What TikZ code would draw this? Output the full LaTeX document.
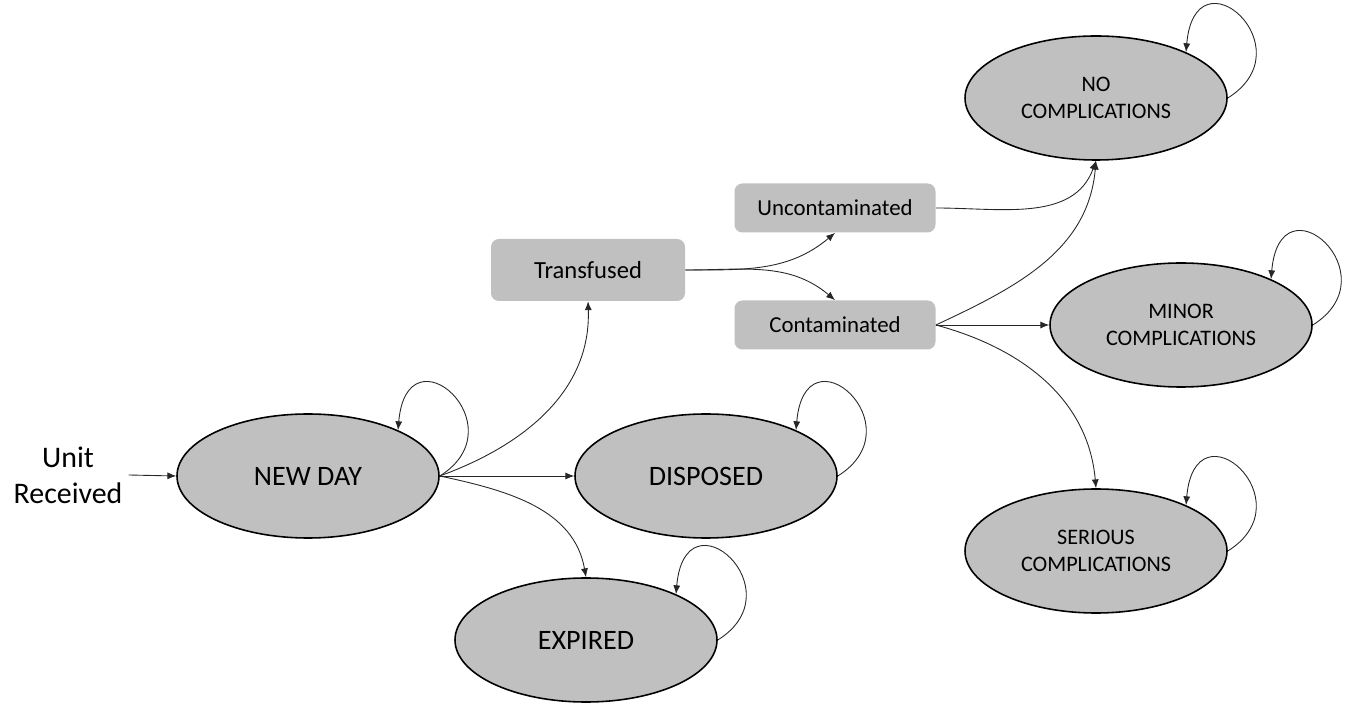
\documentclass[tikz,border=0pt]{standalone}
\usepackage{fontspec}
\setmainfont{Carlito}
\usetikzlibrary{arrows.meta,shapes.geometric,positioning}
\definecolor{stategray}{RGB}{192,192,192}

\begin{document}
\begin{tikzpicture}[
  state/.style={ellipse,draw=black,line width=0.9pt,fill=stategray,minimum width=5.24cm,minimum height=2.48cm,inner sep=0pt,align=center},
  bigtxt/.style={font=\fontsize{16}{19}\selectfont},
  smalltxt/.style={font=\fontsize{12.6}{15.4}\selectfont},
  box/.style={rectangle,rounded corners=4.5pt,fill=stategray,minimum width=4.02cm,minimum height=0.98cm,font=\fontsize{13}{15}\selectfont},
  edge/.style={draw=black!85,line width=0.5pt,-{Latex[length=5pt,width=4pt]}}]
\useasboundingbox (0,0) rectangle (27,14.06);
% states
\node[align=center,font=\fontsize{17}{20.5}\selectfont] (unit) at (1.36,4.56) {Unit\\Received};
\node[state,bigtxt] (nd) at (6.16,4.54) {NEW DAY};
\node[state,bigtxt] (disp) at (14.12,4.54) {DISPOSED};
\node[state,bigtxt] (exp) at (11.72,1.26) {EXPIRED};
\node[state,smalltxt] (noc) at (21.92,12.10) {NO\\COMPLICATIONS};
\node[state,smalltxt] (minc) at (23.62,7.56) {MINOR\\COMPLICATIONS};
\node[state,smalltxt] (serc) at (21.92,3.04) {SERIOUS\\COMPLICATIONS};
\node[box,minimum width=3.88cm,minimum height=1.24cm,font=\fontsize{14}{16}\selectfont] (trans) at (11.76,8.66) {Transfused};
\node[box] (uncont) at (16.70,9.90) {Uncontaminated};
\node[box] (cont) at (16.70,7.56) {Contaminated};
% transitions
\draw[edge] (unit.east) -- (nd.west);
\draw[edge] (nd.east) to[out=20,in=-88] (trans.south);
\draw[edge] (nd.east) -- (disp.west);
\draw[edge] (nd.east) to[out=-12,in=100] (exp.north);
\draw[edge] (trans.east) to[out=0,in=-140] (uncont.south);
\draw[edge] (trans.east) to[out=0,in=140] (cont.north);
\draw[edge] (uncont.east) to[out=0,in=-110] (noc.south);
\draw[edge] (cont.east) to[out=25,in=-95] (noc.south);
\draw[edge] (cont.east) -- (minc.west);
\draw[edge] (cont.east) to[out=-15,in=95] (serc.north);
% self loops
\foreach \s in {nd,disp,exp,noc,minc,serc}
  \draw[edge] (\s.east) .. controls +(1.6,1) and +(0.18,2.1) .. (\s.27);
\end{tikzpicture}
\end{document}
